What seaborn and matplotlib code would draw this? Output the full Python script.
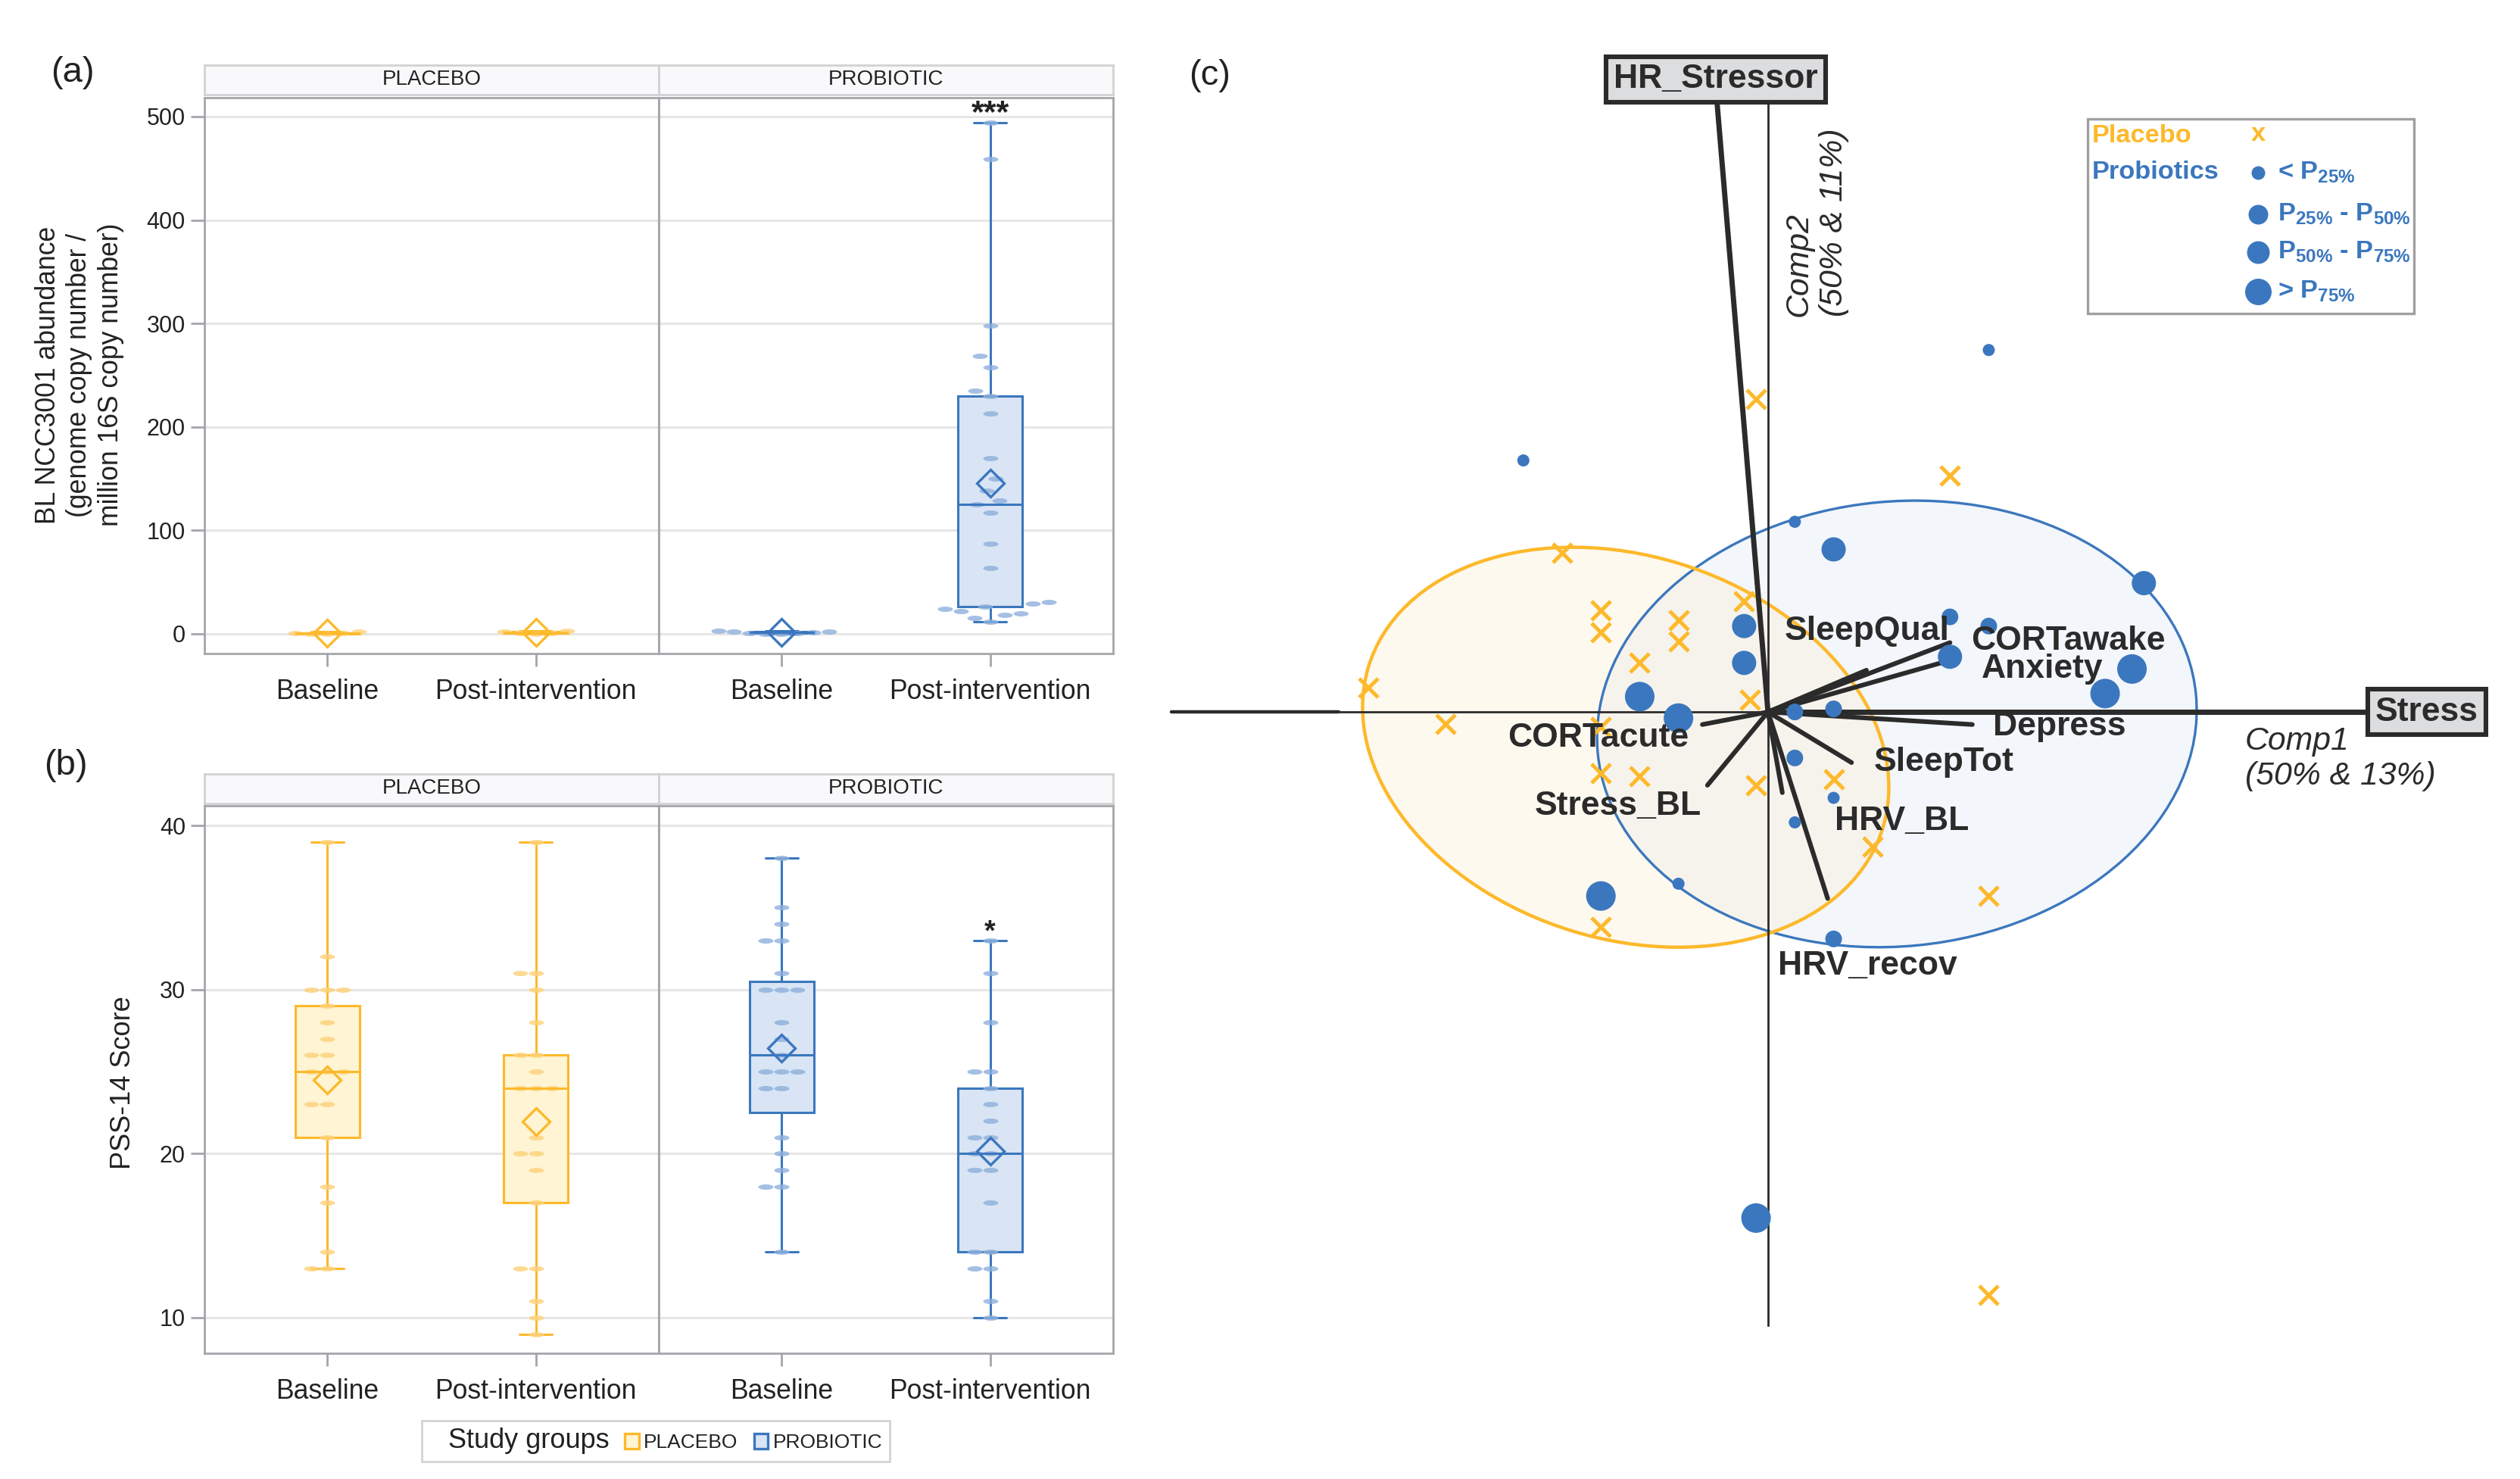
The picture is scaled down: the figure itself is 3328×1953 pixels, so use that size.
import numpy as np
import pandas as pd
import matplotlib
matplotlib.use("Agg")
import matplotlib.pyplot as plt
import matplotlib.patches as mpatches
from matplotlib.lines import Line2D
import seaborn as sns

sns.set_style("white")
plt.rcParams["font.family"] = ["Liberation Sans", "DejaVu Sans"]
plt.rcParams["mathtext.fontset"] = "custom"
plt.rcParams["mathtext.rm"] = "Liberation Sans"
plt.rcParams["mathtext.it"] = "Liberation Sans:italic"
plt.rcParams["mathtext.bf"] = "Liberation Sans:bold"
plt.rcParams["mathtext.default"] = "bf"

# ---------------- data ----------------
times = ["Baseline", "Post-intervention"]
groups = ["PLACEBO", "PROBIOTIC"]

# (a) BL NCC3001 abundance
bl_placebo_base = [0, 0, 0.5, 1, 2]
bl_placebo_post = [0, 0.5, 1, 2, 3]
bl_probio_base = [0, 0, 0.5, 1, 1.5, 2, 2.5, 3]
bl_probio_post = [12, 15, 18, 20, 22, 24, 26, 29, 31, 64, 87, 117, 125, 129, 138,
                  150, 170, 213, 230, 235, 258, 269, 298, 459, 494]

# (b) PSS-14 score
pss_placebo_base = [13, 13, 14, 17, 18, 21, 23, 23, 25, 25, 25, 26, 26, 27,
                    28, 29, 30, 30, 30, 32, 39]
pss_placebo_post = [9, 10, 11, 13, 13, 17, 19, 20, 20, 21, 24, 24, 24, 25, 26,
                    26, 28, 30, 31, 31, 39]
pss_probio_base = [14, 18, 18, 19, 20, 21, 24, 24, 25, 25, 25, 26, 27, 28, 30,
                   30, 30, 31, 33, 33, 34, 35, 38]
pss_probio_post = [10, 11, 13, 13, 14, 14, 17, 19, 19, 20, 20, 21, 21, 22, 23,
                   24, 25, 25, 28, 31, 33]

# (c) biplot scores
plc_c1 = [-0.04, 0.61, -0.69, -0.56, -0.56, -0.30, -0.30, -0.43, -0.08, -0.06, -1.34,
          -1.08, -0.56, -0.56, -0.43, -0.04, 0.22, 0.35, 0.74, -0.56, 0.74]
plc_c2 = [1.02, 0.77, 0.52, 0.33, 0.26, 0.30, 0.23, 0.16, 0.36, 0.04, 0.08,
          -0.04, -0.05, -0.20, -0.21, -0.24, -0.22, -0.44, -0.60, -0.70, -1.90]
pro_c1 = [0.74, -0.82, 0.09, 0.22, 1.26, 0.61, 0.74, -0.08, -0.08, 0.61, 1.22, 1.13,
          -0.43, -0.30, 0.09, 0.22, 0.09, 0.22, 0.09, -0.30, -0.56, 0.22, -0.04]
pro_c2 = [1.18, 0.82, 0.62, 0.53, 0.42, 0.31, 0.28, 0.28, 0.16, 0.18, 0.14, 0.06,
          0.05, -0.02, 0.00, 0.01, -0.15, -0.28, -0.36, -0.56, -0.60, -0.74, -1.65]
pro_class = [1, 1, 1, 3, 3, 2, 2, 3, 3, 3, 4, 4, 4, 4, 2, 2, 2, 1, 1, 1, 4, 2, 4]

load_names = ["Stress", "HR_Stressor", "SleepQual", "CORTawake", "Anxiety", "Depress",
              "SleepTot", "HRV_BL", "HRV_recov", "CORTacute", "Stress_BL"]
load_c1 = [2.0, -0.17, 0.33, 0.61, 0.58, 0.685, 0.28, 0.048, 0.20, -0.22, -0.203]
load_c2 = [0.0, 1.978, 0.136, 0.226, 0.16, -0.041, -0.165, -0.263, -0.608, -0.041, -0.239]

# ellipses: centre, sd comp1, sd comp2, covariance
ell_placebo = (-0.477, -0.115, 0.882, 0.652, -0.115)
ell_probio = (0.432, -0.039, 1.005, 0.728, 0.045)

# ---------------- style ----------------
W, H = 3328, 1953
DPI = 200
PLA = "#FDB92B"
PRO = "#3B77BE"
PLA_FILL = "#FFF4D3"
PRO_FILL = "#D9E5F4"
PLA_PT = "#FDD27A"
PRO_PT = "#8DB0DC"
FRAME = "#A3A6AA"
DARK = "#2B2B2B"
TXT = "#222222"

theta = np.linspace(0, 2 * np.pi, 30)
DASH = list(zip(np.cos(theta), 0.35 * np.sin(theta)))


def fx(px):
    return px / W


def fy(py):
    return 1 - py / H


def rect(x0, y0, x1, y1):
    return [fx(x0), fy(y1), fx(x1) - fx(x0), fy(y0) - fy(y1)]


def long_frame(base, post):
    return pd.DataFrame({"time": [times[0]] * len(base) + [times[1]] * len(post),
                         "value": list(base) + list(post)})


fig = plt.figure(figsize=(W / DPI, H / DPI), dpi=DPI)


def draw_facet(ax, base, post, main, fill, pts, ylim, yticks, left):
    df = long_frame(base, post)
    sns.boxplot(data=df, x="time", y="value", order=times, width=0.31, color=fill,
                linecolor=main, saturation=1, linewidth=1.1, whis=(0, 100),
                showfliers=False, showmeans=True,
                meanprops=dict(marker="D", markersize=9, markerfacecolor="none",
                               markeredgecolor=main, markeredgewidth=1.2),
                ax=ax)
    sns.swarmplot(data=df, x="time", y="value", order=times, color=pts, size=7.2,
                  marker=DASH, alpha=0.8, linewidth=0, zorder=2.05, ax=ax,
                  warn_thresh=1)
    ax.set_xlim(-0.59, 1.59)
    ax.set_ylim(*ylim)
    ax.set_yticks(yticks)
    ax.set_xlabel("")
    ax.set_ylabel("")
    ax.yaxis.grid(True, color="#E6E6E6", lw=1.1)
    ax.xaxis.grid(False)
    ax.set_axisbelow(True)
    for sp in ax.spines.values():
        sp.set_color(FRAME)
        sp.set_linewidth(1.0)
    ax.tick_params(axis="x", bottom=True, length=6, width=1.0, color=FRAME,
                   labelsize=12.8, labelcolor=TXT, pad=6)
    if left:
        ax.tick_params(axis="y", left=True, length=6.5, width=1.0, color=FRAME,
                       labelsize=11, labelcolor=TXT, pad=2.5)
    else:
        ax.tick_params(axis="y", left=False, labelleft=False)


def strip(x0, x1, y0, y1, label):
    s = fig.add_axes(rect(x0, y0, x1, y1))
    s.set_facecolor("#F9F9FC")
    s.set_xticks([])
    s.set_yticks([])
    for sp in s.spines.values():
        sp.set_color("#D2D2D2")
        sp.set_linewidth(1.0)
    s.text(0.5, 0.5, label, ha="center", va="center", fontsize=10, color=TXT)


# ---------------- panel (a) ----------------
a_top, a_bot = 129, 862.5
ax_a1 = fig.add_axes(rect(270, a_top, 870, a_bot))
ax_a2 = fig.add_axes(rect(870, a_top, 1470, a_bot))
ylim_a = (-18.7, 518.3)
draw_facet(ax_a1, bl_placebo_base, bl_placebo_post, PLA, PLA_FILL, PLA_PT, ylim_a,
           [0, 100, 200, 300, 400, 500], True)
draw_facet(ax_a2, bl_probio_base, bl_probio_post, PRO, PRO_FILL, PRO_PT, ylim_a,
           [0, 100, 200, 300, 400, 500], False)
ax_a2.text(1, 495, "***", ha="center", va="baseline", fontsize=15.5,
           fontweight="bold", color=TXT)
strip(270, 870, 86, 125, groups[0])
strip(870, 1470, 86, 125, groups[1])
fig.text(fx(105), fy(495), "BL NCC3001 abundance\n(genome copy number /\nmillion 16S copy number)",
         rotation=90, ha="center", va="center", multialignment="center",
         fontsize=12.8, color=TXT, linespacing=1.25)

# ---------------- panel (b) ----------------
b_top, b_bot = 1064.5, 1787
ax_b1 = fig.add_axes(rect(270, b_top, 870, b_bot))
ax_b2 = fig.add_axes(rect(870, b_top, 1470, b_bot))
ylim_b = (7.83, 41.18)
draw_facet(ax_b1, pss_placebo_base, pss_placebo_post, PLA, PLA_FILL, PLA_PT, ylim_b,
           [10, 20, 30, 40], True)
draw_facet(ax_b2, pss_probio_base, pss_probio_post, PRO, PRO_FILL, PRO_PT, ylim_b,
           [10, 20, 30, 40], False)
ax_b2.text(1, 33.0, "*", ha="center", va="baseline", fontsize=13.5,
           fontweight="bold", color=TXT)
strip(270, 870, 1022, 1061, groups[0])
strip(870, 1470, 1022, 1061, groups[1])
fig.text(fx(162), fy(1430), "PSS-14 Score", rotation=90, ha="center", va="center",
         fontsize=13, color=TXT)

handles = [mpatches.Patch(facecolor="none", edgecolor="none"),
           mpatches.Patch(facecolor=PLA_FILL, edgecolor=PLA, lw=1.2),
           mpatches.Patch(facecolor=PRO_FILL, edgecolor=PRO, lw=1.2)]
leg = fig.legend(handles, ["Study groups", groups[0], groups[1]], loc="center",
                 bbox_to_anchor=(fx(866), fy(1903)), ncol=3, frameon=True,
                 fancybox=False, edgecolor="#C8C8C8", prop={"size": 9.5},
                 handlelength=0.7, handleheight=0.8, handletextpad=0.25,
                 columnspacing=0.8, borderpad=0.35)
leg.get_frame().set_linewidth(1.0)
leg.get_texts()[0].set_fontsize(13)
for t in leg.get_texts():
    t.set_color(TXT)

# ---------------- panel (c) ----------------
ax_c = fig.add_axes(rect(1500, 60, 3310, 1800))
ax_c.set_xlim(-2.119, 2.475)
ax_c.set_ylim(-2.123, 2.173)
ax_c.set_facecolor("none")
for side in ["top", "right"]:
    ax_c.spines[side].set_visible(False)
ax_c.spines["bottom"].set_position(("data", 0))
ax_c.spines["left"].set_position(("data", 0))
ax_c.spines["bottom"].set_bounds(-2, 2)
ax_c.spines["left"].set_bounds(-2, 1.98)
for side in ["bottom", "left"]:
    ax_c.spines[side].set_color(DARK)
    ax_c.spines[side].set_linewidth(1.0)
    ax_c.spines[side].set_zorder(2)
ax_c.set_xticks([-2, -1, 1])
ax_c.set_yticks([-2, -1, 1])
ax_c.tick_params(direction="inout", length=7.5, width=1.2, color=DARK,
                 labelbottom=False, labelleft=False)
ax_c.plot([-2, -1.44], [0, 0], color=DARK, lw=1.6, zorder=2)


def ellipse(params, edge, face, alpha, ez):
    cx, cy, sx, sy, sxy = params
    cov = np.array([[sx ** 2, sxy], [sxy, sy ** 2]])
    vals, vecs = np.linalg.eigh(cov)
    ang = np.degrees(np.arctan2(vecs[1, 1], vecs[0, 1]))
    w, h = 2 * np.sqrt(vals[1]), 2 * np.sqrt(vals[0])
    ax_c.add_patch(mpatches.Ellipse((cx, cy), w, h, angle=ang, facecolor=face,
                                    edgecolor="none", alpha=alpha, zorder=0.5))
    ax_c.add_patch(mpatches.Ellipse((cx, cy), w, h, angle=ang, facecolor="none",
                                    edgecolor=edge, lw=ez, zorder=1.5))


ellipse(ell_probio, PRO, "#E6ECF5", 0.45, 1.2)
ellipse(ell_placebo, PLA, "#FDF0D2", 0.35, 1.6)

for name, x, y in zip(load_names, load_c1, load_c2):
    lw = 2.5 if name in ("Stress", "HR_Stressor") else 2.2
    ax_c.plot([0, x], [0, y], color=DARK, lw=lw, solid_capstyle="round", zorder=3)

# vector labels
label_pos = {"SleepQual": (0.333, 0.263), "CORTawake": (1.006, 0.232),
             "Anxiety": (0.92, 0.14), "Depress": (0.978, -0.048),
             "SleepTot": (0.589, -0.164), "HRV_BL": (0.448, -0.357),
             "HRV_recov": (0.333, -0.828), "CORTacute": (-0.568, -0.086),
             "Stress_BL": (-0.502, -0.306)}
for name, (lx, ly) in label_pos.items():
    ax_c.text(lx, ly, name, ha="center", va="center", fontsize=16,
              fontweight="bold", color=DARK, zorder=6)
box = dict(boxstyle="square,pad=0.22", facecolor="#DCDDDF", edgecolor=DARK, lw=2.2)
ax_c.text(2.208, 0.0, "Stress", ha="center", va="center", fontsize=16,
          fontweight="bold", color=DARK, bbox=box, zorder=6)
ax_c.text(-0.175, 2.062, "HR_Stressor", ha="center", va="center", fontsize=16,
          fontweight="bold", color=DARK, bbox=box, zorder=6)
ax_c.text(1.599, -0.153, "Comp1\n(50% & 13%)", ha="left", va="center",
          fontsize=15.4, style="italic", color=DARK, linespacing=1.2)
ax_c.text(0.162, 1.289, "Comp2\n(50% & 11%)", ha="center", va="bottom",
          rotation=90, multialignment="left", fontsize=15.4, style="italic",
          color=DARK, linespacing=1.2)

# scores
sns.scatterplot(x=plc_c1, y=plc_c2, marker="x", color=PLA, s=81, linewidth=1.8,
                ax=ax_c, zorder=4, legend=False)
size_px = {1: 16, 2: 22, 3: 32, 4: 39}
pro_s = [(size_px[c] * 72 / DPI) ** 2 for c in pro_class]
ax_c.scatter(pro_c1, pro_c2, s=pro_s, color=PRO, edgecolors="none", zorder=4)

# legend box (c)
fig.add_artist(mpatches.Rectangle((fx(2757), fy(414)), fx(3188) - fx(2757),
                                  fy(157) - fy(414), transform=fig.transFigure,
                                  fill=False, edgecolor="#A0A0A0", lw=1.2))
fig.text(fx(2763), fy(180), "Placebo", ha="left", va="center", fontsize=12.4,
         fontweight="bold", color=PLA)
fig.text(fx(2982), fy(178), "x", ha="center", va="center", fontsize=12.4,
         fontweight="bold", color=PLA)
fig.text(fx(2763), fy(228), "Probiotics", ha="left", va="center", fontsize=12.4,
         fontweight="bold", color=PRO)
leg_labels = [r"< P$_{25\%}$", r"P$_{25\%}$ - P$_{50\%}$", r"P$_{50\%}$ - P$_{75\%}$",
              r"> P$_{75\%}$"]
leg_y = [228, 283, 333, 385]
leg_d = [18, 26, 30, 35]
for lab, yy, d in zip(leg_labels, leg_y, leg_d):
    fig.add_artist(Line2D([fx(2982)], [fy(yy)], marker="o", markersize=d * 72 / DPI,
                          color=PRO, markeredgewidth=0, transform=fig.transFigure))
    fig.text(fx(3008), fy(yy), lab, ha="left", va="center", fontsize=12.4,
             fontweight="bold", color=PRO)

# panel letters
fig.text(fx(96), fy(96), "(a)", ha="center", va="center", fontsize=17, color=TXT)
fig.text(fx(87), fy(1011), "(b)", ha="center", va="center", fontsize=17, color=TXT)
fig.text(fx(1598), fy(100), "(c)", ha="center", va="center", fontsize=17, color=TXT)

fig.savefig("out.png", dpi=DPI)
